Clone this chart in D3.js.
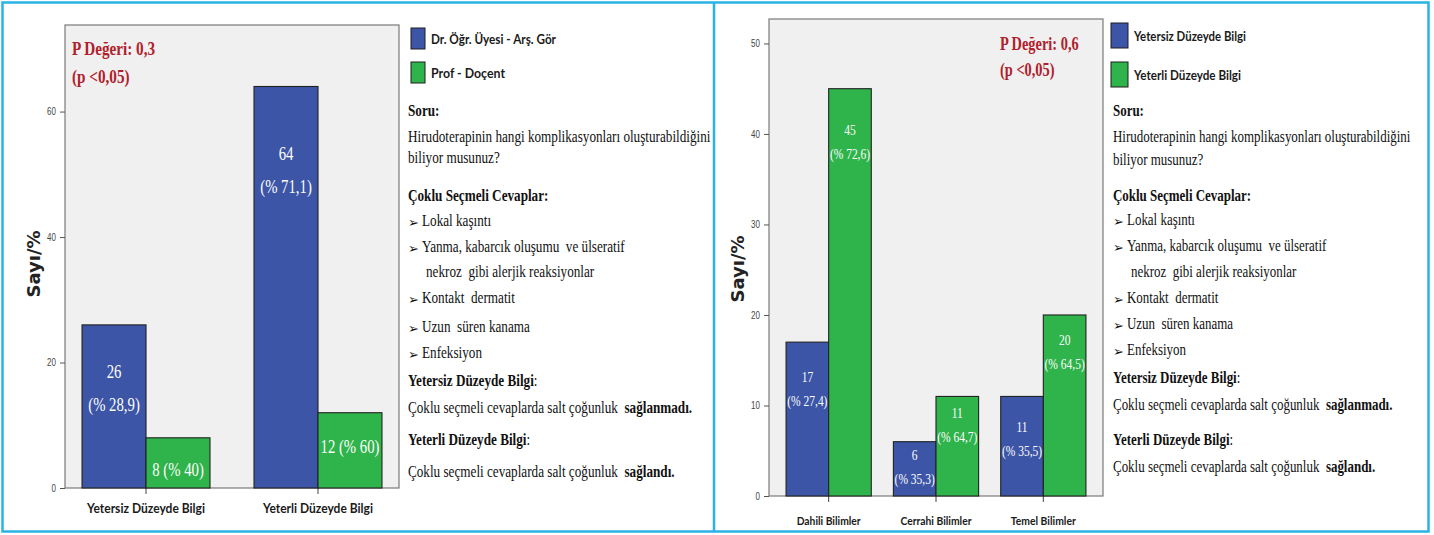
<!DOCTYPE html>
<html>
<head>
<meta charset="utf-8">
<script src="https://cdn.jsdelivr.net/npm/d3@7/dist/d3.min.js"></script>
<style>
  html, body { margin: 0; padding: 0; background: #fff; }
  svg { display: block; }
</style>
</head>
<body>
<svg id="chart" width="1434" height="535"></svg>
<script>
// ---- data: left panel (academic title vs. knowledge level) ----
const leftCategories = ["Yetersiz Düzeyde Bilgi", "Yeterli Düzeyde Bilgi"];
const leftSeries = ["Dr. Öğr. Üyesi - Arş. Gör", "Prof - Doçent"];
const leftBlueValues = [26, 64];
const leftGreenValues = [8, 12];
const leftBluePercents = ["28,9", "71,1"];
const leftGreenPercents = ["40", "60"];
const leftTicks = [0, 20, 40, 60];
const leftPValue = "0,3";

// ---- data: right panel (department vs. knowledge level) ----
const rightCategories = ["Dahili Bilimler", "Cerrahi Bilimler", "Temel Bilimler"];
const rightSeries = ["Yetersiz Düzeyde Bilgi", "Yeterli Düzeyde Bilgi"];
const rightBlueValues = [17, 6, 11];
const rightGreenValues = [45, 11, 20];
const rightBluePercents = ["27,4", "35,3", "35,5"];
const rightGreenPercents = ["72,6", "64,7", "64,5"];
const rightTicks = [0, 10, 20, 30, 40, 50];
const rightPValue = "0,6";

// explanatory note shown beside both charts
const noteLines = [
  { parts: [["Soru:", 700]] },
  { parts: [["Hirudoterapinin hangi komplikasyonları oluşturabildiğini", 400]] },
  { parts: [["biliyor musunuz?", 400]] },
  { parts: [["Çoklu Seçmeli Cevaplar:", 700]] },
  { bullet: true, parts: [["Lokal kaşıntı", 400]] },
  { bullet: true, parts: [["Yanma, kabarcık oluşumu  ve ülseratif", 400]] },
  { indent: true, parts: [["nekroz  gibi alerjik reaksiyonlar", 400]] },
  { bullet: true, parts: [["Kontakt  dermatit", 400]] },
  { bullet: true, parts: [["Uzun  süren kanama", 400]] },
  { bullet: true, parts: [["Enfeksiyon", 400]] },
  { parts: [["Yetersiz Düzeyde Bilgi", 700], [":", 400]] },
  { parts: [["Çoklu seçmeli cevaplarda salt çoğunluk  ", 400], ["sağlanmadı.", 700]] },
  { parts: [["Yeterli Düzeyde Bilgi", 700], [":", 400]] },
  { parts: [["Çoklu seçmeli cevaplarda salt çoğunluk  ", 400], ["sağlandı.", 700]] }
];

// ---- styling / layout ----
const BLUE = "#3c55a6";
const GREEN = "#2fb34b";
const RED = "#b0202c";
const FRAME_BLUE = "#2bb3e6";
const SERIF = "'Liberation Serif', 'Times New Roman', serif";
const SANS = "Lato, 'Open Sans', sans-serif";

const svg = d3.select("#chart");

function scaledText(g, str, x, y, o) {
  const t = g.append("text")
    .attr("transform", `translate(${x},${y}) scale(${o.sx || 1},1)`)
    .attr("font-family", o.family || SERIF)
    .attr("font-size", o.size)
    .attr("font-weight", o.weight || 400)
    .attr("fill", o.fill || "#111")
    .attr("text-anchor", o.anchor || "start")
    .attr("dominant-baseline", "central")
    .text(str);
  return t;
}

function fitText(g, str, x, y, o) {
  return g.append("text")
    .attr("x", x).attr("y", y)
    .attr("font-family", o.family || SANS)
    .attr("font-size", o.size)
    .attr("font-weight", o.weight || 700)
    .attr("fill", o.fill || "#1a1a1a")
    .attr("text-anchor", o.anchor || "start")
    .attr("dominant-baseline", "central")
    .attr("textLength", o.width)
    .attr("lengthAdjust", "spacingAndGlyphs")
    .text(str);
}

function drawPanel(cfg) {
  const g = svg.append("g");
  const { plot } = cfg;

  // plot background + frame
  g.append("rect")
    .attr("x", plot.x0).attr("y", plot.y0)
    .attr("width", plot.x1 - plot.x0).attr("height", plot.y1 - plot.y0)
    .attr("fill", "#f0f0f0").attr("stroke", "#7a7a7a").attr("stroke-width", 1.2);

  const y = d3.scaleLinear().domain([0, cfg.yMax]).range([plot.y1, plot.y0]);
  const x0 = d3.scaleBand().domain(cfg.categories)
    .range([plot.x0, plot.x1])
    .paddingInner(cfg.padInner).paddingOuter(cfg.padOuter);
  const x1 = d3.scaleBand().domain(cfg.series).range([0, x0.bandwidth()]);

  // y axis
  const yAxis = g.append("g")
    .attr("transform", `translate(${plot.x0},0)`)
    .call(d3.axisLeft(y).tickValues(cfg.ticks).tickSize(5).tickPadding(2));
  yAxis.select(".domain").remove();
  yAxis.selectAll(".tick line").attr("stroke", "#555");
  yAxis.selectAll(".tick text")
    .attr("font-family", "'Liberation Sans', sans-serif")
    .attr("font-size", 10).attr("fill", "#444")
    .attr("transform", "scale(0.8,1)")
    .attr("x", -9 / 0.8);

  // x axis
  const xAxis = g.append("g")
    .attr("transform", `translate(0,${plot.y1})`)
    .call(d3.axisBottom(x0).tickSize(6).tickFormat(""));
  xAxis.select(".domain").remove();
  xAxis.selectAll(".tick line").attr("stroke", "#444");

  cfg.categories.forEach((c, i) => {
    fitText(g, c, x0(c) + x0.bandwidth() / 2, cfg.xLabelY,
      { size: cfg.xLabelSize, width: cfg.xLabelWidths[i], anchor: "middle" });
  });

  // bars
  const rows = cfg.categories.map((c, i) => ({
    c,
    vals: [
      { s: cfg.series[0], v: cfg.blue[i], pct: cfg.bluePct[i], color: BLUE, at: cfg.blueLabelAt[i], one: cfg.blueOneLine },
      { s: cfg.series[1], v: cfg.green[i], pct: cfg.greenPct[i], color: GREEN, at: cfg.greenLabelAt[i], one: cfg.greenOneLine }
    ]
  }));

  const grp = g.selectAll("g.grp").data(rows).join("g")
    .attr("class", "grp")
    .attr("transform", d => `translate(${x0(d.c)},0)`);

  grp.selectAll("rect").data(d => d.vals).join("rect")
    .attr("x", d => x1(d.s))
    .attr("y", d => y(d.v))
    .attr("width", x1.bandwidth())
    .attr("height", d => y(0) - y(d.v))
    .attr("fill", d => d.color)
    .attr("stroke", "#222").attr("stroke-width", 1.1);

  // value labels inside the bars
  grp.each(function (d) {
    const gg = d3.select(this);
    d.vals.forEach(b => {
      const cx = x1(b.s) + x1.bandwidth() / 2;
      const ly = y(b.at);
      if (b.one) {
        scaledText(gg, `${b.v} (% ${b.pct})`, cx, ly,
          { size: cfg.valSize, sx: 0.82, fill: "#fff", anchor: "middle" });
      } else {
        scaledText(gg, `${b.v}`, cx, ly,
          { size: cfg.valSize, sx: 0.82, fill: "#fff", anchor: "middle" });
        scaledText(gg, `(% ${b.pct})`, cx, ly + cfg.valGap,
          { size: cfg.valSize, sx: 0.82, fill: "#fff", anchor: "middle" });
      }
    });
  });

  // p value
  scaledText(g, `P Değeri: ${cfg.pValue}`, cfg.pX, cfg.pY,
    { size: cfg.pSize, sx: 0.8, weight: 700, fill: RED });
  scaledText(g, "(p <0,05)", cfg.pX, cfg.pY + cfg.pGap,
    { size: cfg.pSize, sx: 0.8, weight: 700, fill: RED });

  // y title
  g.append("text")
    .attr("transform", `translate(${cfg.titleX},${cfg.titleY}) rotate(-90)`)
    .attr("font-family", "'DejaVu Sans', Verdana, sans-serif")
    .attr("font-weight", 700).attr("font-size", 18).attr("fill", "#222")
    .attr("text-anchor", "middle").attr("dominant-baseline", "central")
    .text("Sayı/%");

  // legend
  cfg.series.forEach((s, i) => {
    const L = cfg.legend;
    g.append("rect")
      .attr("x", L.x).attr("y", L.y[i])
      .attr("width", L.w).attr("height", L.h)
      .attr("fill", i === 0 ? BLUE : GREEN)
      .attr("stroke", "#1f1f1f").attr("stroke-width", 1);
    fitText(g, s, L.tx, L.y[i] + L.h / 2, { size: L.size, width: L.widths[i] });
  });

  // note text
  const N = cfg.note;
  noteLines.forEach((ln, i) => {
    const ly = N.ys[i];
    if (ln.bullet) {
      g.append("text").attr("x", N.x).attr("y", ly + 1)
        .attr("font-family", "'DejaVu Sans', sans-serif").attr("font-size", 13)
        .attr("dominant-baseline", "central").attr("fill", "#111").text("➢");
    }
    const tx = ln.bullet ? N.x + 14 : ln.indent ? N.x + 18 : N.x;
    const t = g.append("text")
      .attr("transform", `translate(${tx},${ly}) scale(${N.sx},1)`)
      .attr("font-family", SERIF).attr("font-size", N.size)
      .attr("fill", "#111").attr("dominant-baseline", "central")
      .attr("xml:space", "preserve").style("white-space", "pre");
    ln.parts.forEach(([str, w]) => t.append("tspan").attr("font-weight", w).text(str));
  });
}

// panel frames
svg.append("rect").attr("x", 2.5).attr("y", 2.5).attr("width", 1426).attr("height", 529)
  .attr("fill", "none").attr("stroke", FRAME_BLUE).attr("stroke-width", 2.5);
svg.append("line").attr("x1", 714).attr("x2", 714).attr("y1", 2.5).attr("y2", 531.5)
  .attr("stroke", FRAME_BLUE).attr("stroke-width", 2.5);

drawPanel({
  categories: leftCategories, series: leftSeries,
  blue: leftBlueValues, green: leftGreenValues,
  bluePct: leftBluePercents, greenPct: leftGreenPercents,
  blueLabelAt: [18.5, 53.2], greenLabelAt: [2.9, 6.5],
  blueOneLine: false, greenOneLine: true,
  ticks: leftTicks, yMax: 73.8,
  plot: { x0: 65, x1: 399, y0: 25, y1: 488 },
  padInner: 0.256, padOuter: 0.099,
  xLabelY: 507, xLabelSize: 14, xLabelWidths: [118, 110],
  valSize: 18, valGap: 33,
  pValue: leftPValue, pX: 72, pY: 49, pGap: 28, pSize: 19,
  titleX: 33, titleY: 264,
  legend: { x: 411, y: [28, 62], w: 14, h: 21, tx: 431, size: 13, widths: [125, 74] },
  note: { x: 408, sx: 0.824, size: 16,
    ys: [111, 137, 158, 196, 221, 247, 272, 298, 327, 353, 381, 408, 440, 472] }
});

drawPanel({
  categories: rightCategories, series: rightSeries,
  blue: rightBlueValues, green: rightGreenValues,
  bluePct: rightBluePercents, greenPct: rightGreenPercents,
  blueLabelAt: [13.1, 4.5, 7.6], greenLabelAt: [40.4, 9.1, 17.2],
  blueOneLine: false, greenOneLine: false,
  ticks: rightTicks, yMax: 52.7,
  plot: { x0: 769, x1: 1103, y0: 19, y1: 496 },
  padInner: 0.206, padOuter: 0.159,
  xLabelY: 520, xLabelSize: 12, xLabelWidths: [64, 71, 65],
  valSize: 14, valGap: 24,
  pValue: rightPValue, pX: 1000, pY: 44, pGap: 26, pSize: 18,
  titleX: 737, titleY: 269,
  legend: { x: 1111, y: [23, 62], w: 17, h: 25, tx: 1134, size: 13, widths: [112, 107] },
  note: { x: 1113, sx: 0.81, size: 16,
    ys: [111, 137, 160, 196, 220, 246, 272, 298, 324, 350, 378, 405, 440, 467] }
});
</script>
</body>
</html>
